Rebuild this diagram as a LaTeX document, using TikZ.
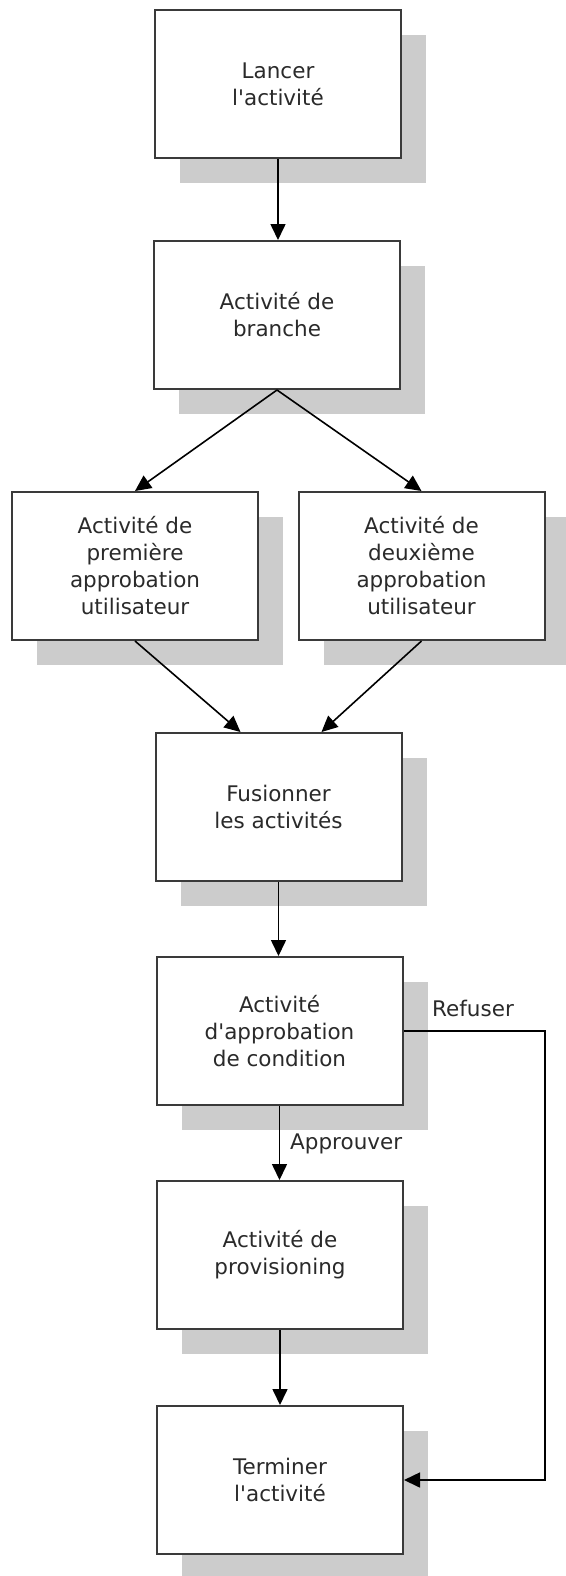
\documentclass[tikz,border=0pt]{standalone}
\usepackage{fontspec}
\newfontfamily\vfont{DejaVu Sans}
\usetikzlibrary{arrows.meta,shadows,calc}
\definecolor{shadowc}{HTML}{CCCCCC}
\definecolor{boxline}{HTML}{3A3A3A}
\definecolor{txt}{HTML}{2A2A2A}
\tikzset{
  actbox/.style={draw=boxline, line width=2pt, fill=white, rectangle,
    minimum width=246pt, minimum height=148pt, align=center, inner sep=0pt,
    font=\vfont\fontsize{21.5}{27}\selectfont, text=txt,
    general shadow={shadow xshift=25pt, shadow yshift=-25pt, fill=shadowc, draw=none}},
  conn/.style={draw=black, line width=1.6pt, -{Triangle[width=15pt,length=16pt]}},
  lbl/.style={font=\vfont\fontsize{21.5}{27}\selectfont, text=txt, inner sep=0pt}
}
\begin{document}
\begin{tikzpicture}[x=1pt,y=-1pt]
\useasboundingbox (0,0) rectangle (565,1576);
\node[actbox] (b1) at (278,84) {Lancer\\l'activité};
\node[actbox] (b2) at (277,315) {Activité de\\branche};
\node[actbox] (b3) at (135,566) {Activité de\\première\\approbation\\utilisateur};
\node[actbox] (b4) at (421.5,566) {Activité de\\deuxième\\approbation\\utilisateur};
\node[actbox] (b5) at (278.5,807) {Fusionner\\les activités};
\node[actbox] (b6) at (279.5,1031) {Activité\\d'approbation\\de condition};
\node[actbox] (b7) at (280,1255) {Activité de\\provisioning};
\node[actbox] (b8) at (280,1480) {Terminer\\l'activité};
\coordinate (rx) at (545,0);
\draw[conn] (b1.south) -- (b1.south |- b2.north);
\draw[conn] (b2.south) -- (b3.north);
\draw[conn] (b2.south) -- (b4.north);
\draw[conn] (b3.south) -- ($(b5.north)+(-38,0)$);
\draw[conn] (b4.south) -- ($(b5.north)+(43,0)$);
\draw[conn] (b5.south) -- (b5.south |- b6.north);
\draw[conn] (b6.south) -- (b6.south |- b7.north);
\draw[conn] (b7.south) -- (b7.south |- b8.north);
\draw[conn] (b6.east) -- (b6.east -| rx) |- (b8.east);
\node[lbl, anchor=west] (approuver) at (290,1144) {Approuver};
\node[lbl, anchor=west] (refuser) at (432,1008) {Refuser};
\end{tikzpicture}
\end{document}
